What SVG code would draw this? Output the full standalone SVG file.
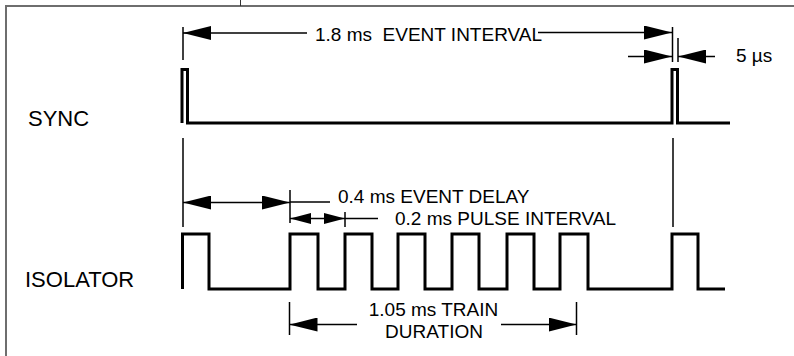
<svg xmlns="http://www.w3.org/2000/svg" width="794" height="356" viewBox="0 0 794 356">
<style>
text{font-family:"Liberation Sans",Arial,Helvetica,sans-serif;fill:#000;white-space:pre}
.lbl{font-size:19px}
.sig{font-size:22px}
.wave{fill:none;stroke:#000;stroke-width:3;stroke-linejoin:miter}
.dim{fill:none;stroke:#000;stroke-width:1.5}
.frame{fill:none;stroke:#6e6e6e;stroke-width:2}
</style>
<defs>
<marker id="ah" markerUnits="userSpaceOnUse" markerWidth="28" markerHeight="14" refX="28" refY="7" orient="auto-start-reverse">
<path d="M0,0 L28,7 L0,14 z" fill="#000"/>
</marker>
<marker id="ahs" markerUnits="userSpaceOnUse" markerWidth="21" markerHeight="11" refX="21" refY="5.5" orient="auto-start-reverse">
<path d="M0,0 L21,5.5 L0,11 z" fill="#000"/>
</marker>
</defs>
<rect width="794" height="356" fill="#fff"/>
<g id="frame">
<path class="frame" d="M6,356 V6 H794"/>
<line x1="240.5" y1="0" x2="240.5" y2="6" stroke="#333" stroke-width="1"/>
</g>
<g id="sync">
<text class="sig" x="28" y="126">SYNC</text>
<path class="wave" d="M182,123 V69.5 H187.5 V123 H672 V69.5 H677.5 V123 H730"/>
</g>
<g id="isolator">
<text class="sig" x="25" y="287">ISOLATOR</text>
<path class="wave" d="M182.5,289 V234 H209 V289 H290 V234 H318 V289 H345 V234 H372 V289 H398 V234 H425 V289 H452 V234 H479 V289 H507 V234 H534 V289 H560 V234 H588 V289 H672 V234 H698 V289 H725"/>
</g>
<g id="connectors">
<line class="dim" x1="183" y1="27" x2="183" y2="60"/>
<line class="dim" x1="672.5" y1="27" x2="672.5" y2="62"/>
<line class="dim" x1="678" y1="38" x2="678" y2="62"/>
<line class="dim" x1="183" y1="138" x2="183" y2="227"/>
<line class="dim" x1="673" y1="138" x2="673" y2="227"/>
<line class="dim" x1="307" y1="33" x2="183" y2="33" marker-end="url(#ah)"/>
<line class="dim" x1="538" y1="32.5" x2="672" y2="32.5" marker-end="url(#ah)"/>
<line class="dim" x1="628" y1="56.5" x2="672" y2="56.5" marker-end="url(#ah)"/>
<line class="dim" x1="715" y1="56.5" x2="678" y2="56.5" marker-end="url(#ah)"/>
<line class="dim" x1="183" y1="202.5" x2="290" y2="202.5" marker-start="url(#ah)" marker-end="url(#ah)"/>
<line class="dim" x1="290" y1="190" x2="290" y2="223"/>
<line class="dim" x1="290" y1="202" x2="330" y2="202"/>
<line class="dim" x1="290" y1="218.5" x2="345" y2="218.5" marker-start="url(#ahs)" marker-end="url(#ahs)"/>
<line class="dim" x1="345" y1="212" x2="345" y2="227"/>
<line class="dim" x1="345" y1="218.5" x2="378" y2="218.5"/>
<line class="dim" x1="289.5" y1="302" x2="289.5" y2="335"/>
<line class="dim" x1="576.5" y1="302" x2="576.5" y2="335"/>
<line class="dim" x1="357" y1="324.5" x2="289.5" y2="324.5" marker-end="url(#ah)"/>
<line class="dim" x1="501" y1="324.5" x2="576.5" y2="324.5" marker-end="url(#ah)"/>
</g>
<g id="labels">
<text class="lbl" x="315" y="41">1.8 ms  EVENT INTERVAL</text>
<text class="lbl" x="736" y="62">5 µs</text>
<text class="lbl" x="338" y="202.5">0.4 ms EVENT DELAY</text>
<text class="lbl" x="395" y="225">0.2 ms PULSE INTERVAL</text>
<text class="lbl" x="433.5" y="316" text-anchor="middle">1.05 ms TRAIN</text>
<text class="lbl" x="434" y="337.5" text-anchor="middle">DURATION</text>
</g>
</svg>
